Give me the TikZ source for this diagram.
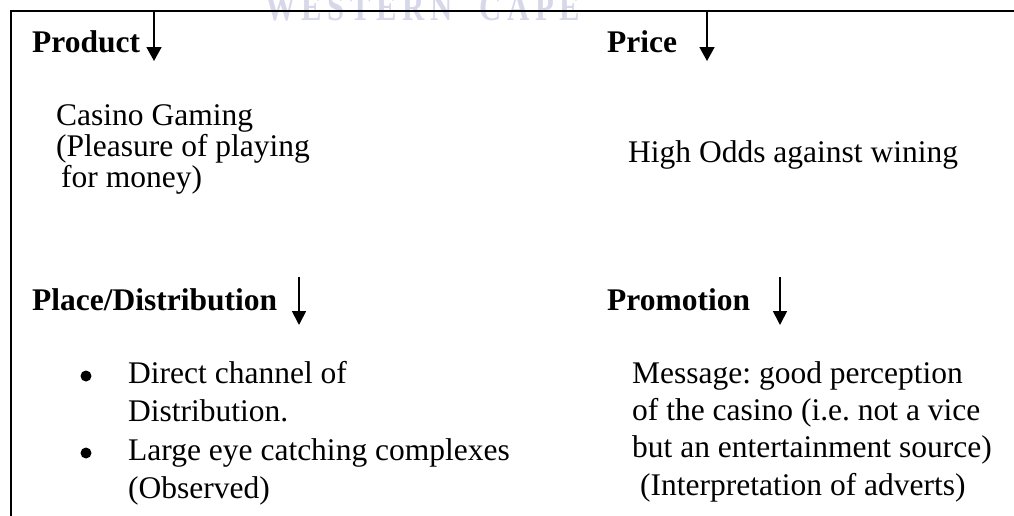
\documentclass[tikz,border=0pt]{standalone}
\usepackage{fontspec}
\setmainfont{Liberation Serif}
\usetikzlibrary{arrows.meta}
\frenchspacing

\definecolor{wmark}{RGB}{214,215,233}

\tikzset{
  frameline/.style={line width=1.8pt, line cap=rect},
  downarrow/.style={line width=1.7pt, -{Triangle[width=15pt,length=14pt]}},
  smallarrow/.style={line width=1.7pt, -{Triangle[width=14pt,length=14pt]}},
  head/.style={anchor=base west, inner sep=0pt, font=\fontsize{31.5}{31.5}\selectfont\bfseries},
  bodytight/.style={anchor=base west, inner sep=0pt, align=left,
    font=\fontsize{31.5}{31}\selectfont},
  bodyloose/.style={anchor=base west, inner sep=0pt, align=left,
    font=\fontsize{31.5}{37.3}\selectfont},
  bulletdot/.style={circle, fill=black, inner sep=0pt, minimum size=11pt},
}

\begin{document}
\begin{tikzpicture}[x=1pt, y=-1pt]
  \useasboundingbox (0,0) rectangle (1014,515);

  % faint watermark behind the top rule
  \begin{scope}
    \clip (0,0) rectangle (1014,515);
    \node[anchor=base west, inner sep=0pt, text=wmark] (watermark) at (265,20)
      {\resizebox{315pt}{26pt}{\bfseries W\hspace{0.18em}E\hspace{0.18em}S\hspace{0.18em}T\hspace{0.18em}E\hspace{0.18em}R\hspace{0.18em}N\hspace{0.9em}C\hspace{0.18em}A\hspace{0.18em}P\hspace{0.18em}E}};
  \end{scope}

  % open frame: top rule and left rule
  \coordinate (corner) at (11,11);
  \coordinate (topend) at (1014,11);
  \coordinate (leftend) at (11,515);
  \draw[frameline] (topend) -- (corner) -- (leftend);

  % headings
  \node[head] (product) at (32,52) {Product};
  \node[head] (price) at (607,52) {Price};
  \node[head] (place) at (32,310) {Place/Distribution};
  \node[head] (promotion) at (607,310) {Promotion};

  % arrows next to the headings
  \coordinate (prodtop) at (154,11);
  \coordinate (prodtip) at (154,61);
  \coordinate (pricetop) at (707,11);
  \coordinate (pricetip) at (707,61);
  \coordinate (placetop) at (299,277);
  \coordinate (placetip) at (299,325);
  \coordinate (promotop) at (780,277);
  \coordinate (promotip) at (780,325);
  \draw[downarrow] (prodtop) -- (prodtip);
  \draw[downarrow] (pricetop) -- (pricetip);
  \draw[smallarrow] (placetop) -- (placetip);
  \draw[smallarrow] (promotop) -- (promotip);

  % product and price texts (anchored on the baseline of the last line)
  \node[bodytight] (casino) at (56,187)
    {Casino Gaming\\(Pleasure of playing\\\hspace{5pt}for money)};
  \node[bodytight] (odds) at (628,162) {High Odds against wining};

  % distribution bullets
  \node[bulletdot] (dot1) at (86,376) {};
  \node[bulletdot] (dot2) at (86,453) {};
  \node[bodyloose] (channel) at (128,421)
    {Direct channel of\\Distribution.};
  \node[bodyloose] (complexes) at (128,498)
    {Large eye catching complexes\\(Observed)};

  % promotion message
  \node[bodyloose] (message) at (632,495)
    {Message: good perception\\of the casino (i.e. not a vice\\but an entertainment source)\\\hspace{8pt}(Interpretation of adverts)};
\end{tikzpicture}
\end{document}
